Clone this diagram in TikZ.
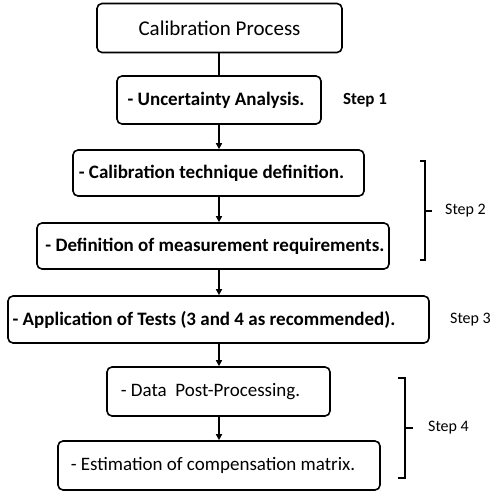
\documentclass[tikz,border=0pt]{standalone}
\usepackage{fontspec}
\setmainfont{Carlito}
\usetikzlibrary{arrows.meta}
\newcommand{\bx}{\fontsize{19}{22}\selectfont}
\begin{document}
\begin{tikzpicture}[x=1pt,y=-1pt,
  stepbox/.style={draw=black,line width=1.6pt,rounded corners=5pt,inner sep=0pt,font=\bx},
  boldbox/.style={stepbox,font=\bx\bfseries},
  conn/.style={line width=1.8pt,-{Triangle[length=6pt,width=6pt]}},
  plainconn/.style={line width=1.8pt},
  brk/.style={line width=1.4pt},
  lbl/.style={font=\fontsize{16}{19}\selectfont,inner sep=0pt,anchor=west}]
\useasboundingbox (0,0) rectangle (498,492);
\node[stepbox,minimum width=245pt,minimum height=49pt,font=\fontsize{21}{24}\selectfont] (b1) at (219.5,28) {Calibration Process};
\node[boldbox,minimum width=204pt,minimum height=48pt] (b2) at (219,100) {- Uncertainty Analysis.\hspace*{6pt}};
\node[boldbox,minimum width=291pt,minimum height=46pt] (b3) at (218.5,173) {- Calibration technique definition.\hspace*{14pt}};
\node[boldbox,minimum width=352pt,minimum height=46pt] (b4) at (213,246) {\hspace*{4pt}- Definition of measurement requirements.};
\node[boldbox,minimum width=421pt,minimum height=47pt] (b5) at (218.5,319.5) {- Application of Tests (3 and 4 as recommended).\hspace*{29pt}};
\node[stepbox,minimum width=223pt,minimum height=49pt] (b6) at (218.5,391.5) {- Data\ \ Post-Processing.\hspace*{16pt}};
\node[stepbox,minimum width=322pt,minimum height=49pt] (b7) at (219,465.5) {- Estimation of compensation matrix.\hspace*{12pt}};
\draw[plainconn] (b1.south -| 219,0) -- (b2.north -| 219,0);
\draw[conn] (b2.south -| 219,0) -- (b3.north -| 219,0);
\draw[conn] (b3.south -| 219,0) -- (b4.north -| 219,0);
\draw[conn] (b4.south -| 219,0) -- (b5.north -| 219,0);
\draw[conn] (b5.south -| 219,0) -- (b6.north -| 219,0);
\draw[conn] (b6.south -| 219,0) -- (b7.north -| 219,0);
\node[lbl,font=\fontsize{17}{20}\selectfont\bfseries] (s1) at (343,100) {Step 1};
\coordinate (t2a) at (420,161);
\coordinate (t2b) at (425,161);
\coordinate (t2c) at (425,260);
\coordinate (t2d) at (420,260);
\coordinate (m2) at (425,211);
\coordinate (m2e) at (432,211);
\draw[brk] (t2a) -- (t2b) -- (t2c) -- (t2d);
\draw[brk] (m2) -- (m2e);
\node[lbl] (s2) at (445,211) {Step 2};
\node[lbl] (s3) at (450,320) {Step 3};
\coordinate (t4a) at (398,378);
\coordinate (t4b) at (405,378);
\coordinate (t4c) at (405,478);
\coordinate (t4d) at (398,478);
\coordinate (m4) at (405,428);
\coordinate (m4e) at (413,428);
\draw[brk] (t4a) -- (t4b) -- (t4c) -- (t4d);
\draw[brk] (m4) -- (m4e);
\node[lbl] (s4) at (428,428) {Step 4};
\end{tikzpicture}
\end{document}
